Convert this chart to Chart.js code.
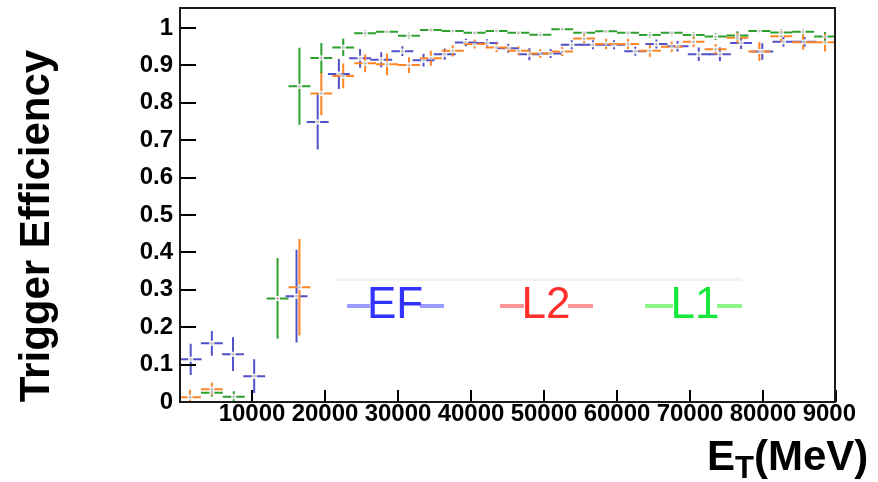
<!DOCTYPE html>
<html>
<head>
<meta charset="utf-8">
<script src="https://cdn.jsdelivr.net/npm/chart.js@4.4.1/dist/chart.umd.min.js"></script>
<style>
  html, body { margin: 0; padding: 0; background: #fff; overflow: hidden; }
  canvas { display: block; }
</style>
</head>
<body>
<canvas id="eff" width="878" height="482"></canvas>
<script>
// Transverse-energy bins (MeV): 3 GeV wide, centres listed explicitly
const binCenters = [1500, 4500, 7500, 10500, 13500, 16500, 19500, 22500, 25500, 28500,
  31500, 34500, 37500, 40500, 43500, 46500, 49500, 52500, 55500, 58500,
  61500, 64500, 67500, 70500, 73500, 76500, 79500, 82500, 85500, 88500];
// EF points sit on a slightly tighter grid
const efCenters = [1600, 4500, 7400, 10300, 13200, 16100, 19000, 21900, 24800, 27700,
  30600, 33500, 36400, 39300, 42200, 45100, 48000, 50900, 53800, 56700,
  59600, 62500, 65400, 68300, 71200, 74100, 77000, 79900, 82800, 85700];
const binHalfWidth = 1500;

// Event Filter efficiency
const efValues = [0.114, 0.157, 0.128, 0.069, null, 0.283, 0.749, 0.877, 0.919, 0.915,
  0.938, 0.914, 0.930, 0.961, 0.960, 0.946, 0.930, 0.932, 0.955, 0.955,
  0.955, 0.938, 0.957, 0.951, 0.930, 0.930, 0.960, 0.937, 0.963, 0.963];
const efErrors = [0.042, 0.033, 0.045, 0.045, null, 0.124, 0.074, 0.040, 0.025, 0.020,
  0.013, 0.017, 0.015, 0.010, 0.010, 0.012, 0.016, 0.012, 0.012, 0.012,
  0.012, 0.012, 0.012, 0.014, 0.018, 0.018, 0.016, 0.022, 0.013, 0.013];

// Level-2 efficiency
const l2Values = [0.013, 0.034, null, null, null, 0.307, 0.825, 0.872, 0.906, 0.903,
  0.901, 0.919, 0.939, 0.957, 0.948, 0.939, 0.932, 0.937, 0.972, 0.957,
  0.957, 0.939, 0.950, 0.963, 0.943, 0.974, 0.937, 0.978, 0.962, 0.962];
const l2Errors = [0.020, 0.018, null, null, null, 0.129, 0.058, 0.033, 0.024, 0.029,
  0.021, 0.020, 0.015, 0.012, 0.012, 0.012, 0.012, 0.012, 0.012, 0.014,
  0.014, 0.016, 0.014, 0.014, 0.014, 0.014, 0.025, 0.015, 0.020, 0.025];

// Level-1 efficiency
const l1Values = [null, 0.025, 0.014, null, 0.277, 0.844, 0.920, 0.948, 0.986, 0.990,
  0.979, 0.995, 0.992, 0.987, 0.992, 0.987, 0.982, 0.997, 0.987, 0.991,
  0.987, 0.981, 0.987, 0.981, 0.977, 0.980, 0.992, 0.988, 0.990, 0.977];
const l1Errors = [null, 0.010, 0.015, null, 0.108, 0.103, 0.040, 0.023, 0.008, 0.007,
  0.008, 0.006, 0.006, 0.006, 0.006, 0.006, 0.007, 0.005, 0.007, 0.006,
  0.007, 0.008, 0.007, 0.008, 0.009, 0.011, 0.007, 0.008, 0.008, 0.012];

const xTicks = [10000, 20000, 30000, 40000, 50000, 60000, 70000, 80000, 90000];
const xTickLabels = ['10000', '20000', '30000', '40000', '50000', '60000', '70000', '80000', '90000'];
const yTicks = [0, 0.1, 0.2, 0.3, 0.4, 0.5, 0.6, 0.7, 0.8, 0.9, 1];
const yTickLabels = ['0', '0.1', '0.2', '0.3', '0.4', '0.5', '0.6', '0.7', '0.8', '0.9', '1'];

const seriesNames = ['EF', 'L2', 'L1'];
const barColors = ['#5252c8', '#ff8424', '#2ea02e'];
const legendTextColors = ['#3232ff', '#ff2e2a', '#14e83a'];
const legendLineColors = ['#9c9cff', '#ff9494', '#8cf58c'];

const series = [
  { name: seriesNames[0], x: efCenters, y: efValues, err: efErrors, color: barColors[0] },
  { name: seriesNames[1], x: binCenters, y: l2Values, err: l2Errors, color: barColors[1] },
  { name: seriesNames[2], x: binCenters, y: l1Values, err: l1Errors, color: barColors[2] }
];

const FONT = '"Liberation Sans", Arial, Helvetica, sans-serif';

// Error crosses (bin width horizontally, uncertainty vertically) with a small gap at the marker
const errorBars = {
  id: 'errorBars',
  beforeDatasetsDraw(chart) {
    const { ctx, chartArea: a, scales: { x: xs, y: ys } } = chart;
    ctx.save();
    ctx.beginPath();
    ctx.rect(a.left, a.top, a.right - a.left, a.bottom - a.top);
    ctx.clip();
    ctx.lineWidth = 2;
    ctx.lineCap = 'butt';
    const gap = 2.5;
    series.forEach(s => {
      ctx.strokeStyle = s.color;
      s.y.forEach((v, i) => {
        if (v === null) return;
        const cx = xs.getPixelForValue(s.x[i]);
        const cy = ys.getPixelForValue(v);
        const xl = xs.getPixelForValue(s.x[i] - binHalfWidth);
        const xr = xs.getPixelForValue(s.x[i] + binHalfWidth);
        const e = s.err[i] || 0;
        const yt = ys.getPixelForValue(v + e);
        const yb = ys.getPixelForValue(v - e);
        ctx.beginPath();
        ctx.moveTo(xl, cy); ctx.lineTo(cx - gap, cy);
        ctx.moveTo(cx + gap, cy); ctx.lineTo(xr, cy);
        if (cy - gap > yt) { ctx.moveTo(cx, yt); ctx.lineTo(cx, cy - gap); }
        if (yb > cy + gap) { ctx.moveTo(cx, cy + gap); ctx.lineTo(cx, yb); }
        ctx.stroke();
      });
    });
    ctx.restore();
  }
};

// Frame with inward tick marks, legend and axis titles
const decorations = {
  id: 'decorations',
  beforeDraw(chart) {
    // the pad edge trims the last x label
    const ctx = chart.ctx;
    ctx.save();
    ctx.beginPath();
    ctx.rect(0, 0, 856, chart.height);
    ctx.clip();
  },
  afterDatasetsDraw(chart) {
    const { ctx, chartArea: a, scales: { x: xs, y: ys } } = chart;
    ctx.save();
    ctx.strokeStyle = '#000';
    ctx.lineWidth = 2;
    ctx.beginPath();
    yTicks.forEach(v => {
      const py = Math.round(ys.getPixelForValue(v));
      ctx.moveTo(a.left, py); ctx.lineTo(a.left + 17, py);
    });
    xTicks.forEach(v => {
      const px = Math.round(xs.getPixelForValue(v));
      ctx.moveTo(px, a.bottom); ctx.lineTo(px, a.bottom - 12);
    });
    ctx.stroke();
    ctx.strokeStyle = '#1a1a1a';
    ctx.strokeRect(a.left + 1, a.top, a.right - a.left - 2, a.bottom - a.top);
    ctx.restore();
  },
  afterDraw(chart) {
    const ctx = chart.ctx;
    ctx.restore();
    ctx.save();

    // legend
    ctx.fillStyle = '#f3f3f3';
    ctx.fillRect(335, 278, 407, 3);
    const entries = [
      { cx: 395, seg: [[347, 370], [420, 444]] },
      { cx: 546, seg: [[500, 524], [568, 593]] },
      { cx: 695, seg: [[645, 673], [717, 742]] }
    ];
    entries.forEach((en, k) => {
      ctx.fillStyle = legendLineColors[k];
      en.seg.forEach(([x0, x1]) => ctx.fillRect(x0, 304, x1 - x0, 4));
      ctx.fillStyle = legendTextColors[k];
      ctx.font = '44px ' + FONT;
      ctx.textAlign = 'center';
      ctx.textBaseline = 'alphabetic';
      ctx.fillText(seriesNames[k], en.cx, 318);
    });

    // y title
    ctx.fillStyle = '#000';
    ctx.save();
    ctx.translate(49, 226);
    ctx.rotate(-Math.PI / 2);
    ctx.font = 'bold 42px ' + FONT;
    ctx.textAlign = 'center';
    ctx.textBaseline = 'alphabetic';
    ctx.fillText('Trigger Efficiency', 0, 0);
    ctx.restore();

    // x title: E_T(MeV)
    ctx.textAlign = 'left';
    ctx.textBaseline = 'alphabetic';
    let x = 707;
    ctx.font = 'bold 42px ' + FONT;
    ctx.fillText('E', x, 470);
    x += ctx.measureText('E').width;
    ctx.font = 'bold 31px ' + FONT;
    ctx.fillText('T', x, 478);
    x += ctx.measureText('T').width;
    ctx.font = 'bold 42px ' + FONT;
    ctx.fillText('(MeV)', x, 470);
    ctx.restore();
  }
};

const datasets = series.map(s => ({
  label: s.name,
  data: s.y.map((v, i) => (v === null ? null : { x: s.x[i], y: v })).filter(p => p !== null),
  pointRadius: 1.6,
  pointBackgroundColor: '#c4c4c4',
  pointBorderWidth: 0,
  showLine: false
}));

new Chart(document.getElementById('eff'), {
  type: 'scatter',
  data: { datasets },
  options: {
    responsive: false,
    animation: false,
    devicePixelRatio: 1,
    layout: { padding: { top: 8, right: 42, left: 0, bottom: 0 } },
    plugins: { legend: { display: false }, tooltip: { enabled: false } },
    scales: {
      x: {
        type: 'linear',
        min: 0,
        max: 90000,
        grid: { display: false, drawTicks: false },
        border: { display: false },
        afterBuildTicks: ax => { ax.ticks = xTicks.map(v => ({ value: v })); },
        afterFit: ax => { ax.height = 80; ax.paddingLeft = 0; ax.paddingRight = 0; },
        ticks: {
          autoSkip: false, maxRotation: 0, minRotation: 0, padding: 0,
          color: '#000',
          font: { family: FONT, size: 24, weight: 'bold', lineHeight: 1 },
          callback: (v, i) => xTickLabels[i]
        }
      },
      y: {
        type: 'linear',
        min: 0,
        max: 1.0535,
        grid: { display: false, drawTicks: false },
        border: { display: false },
        afterBuildTicks: ax => { ax.ticks = yTicks.map(v => ({ value: v })); },
        afterFit: ax => { ax.width = 179; ax.paddingTop = 0; ax.paddingBottom = 0; },
        ticks: {
          autoSkip: false, padding: 6,
          color: '#000',
          font: { family: FONT, size: 24, weight: 'bold', lineHeight: 1 },
          callback: (v, i) => yTickLabels[i]
        }
      }
    }
  },
  plugins: [errorBars, decorations]
});
</script>
</body>
</html>
